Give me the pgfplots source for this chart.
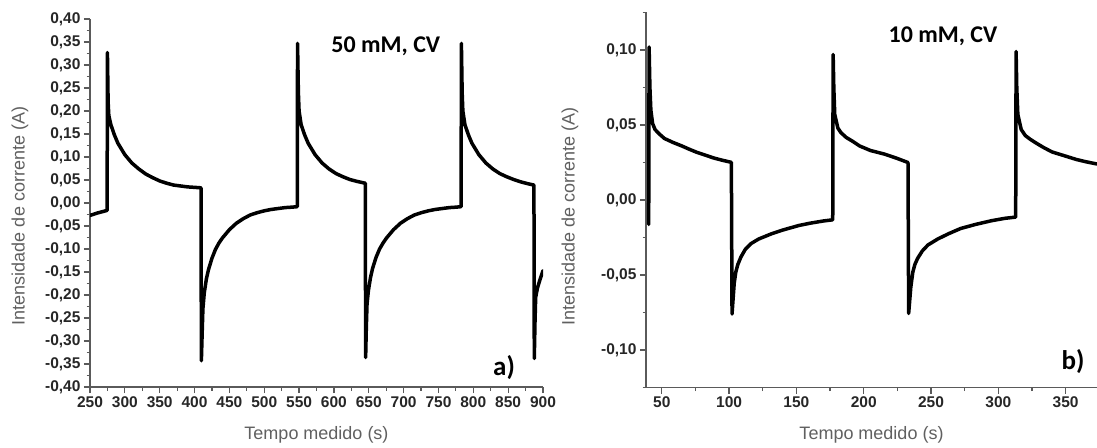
\documentclass[border=0pt]{standalone}
\usepackage{fontspec}
\setmainfont{Liberation Sans}
\newfontfamily\calibri{Carlito}
\usepackage{pgfplots}
\pgfplotsset{compat=1.18}
\definecolor{axgray}{HTML}{5A5A5A}
\definecolor{labgray}{HTML}{606060}
\definecolor{tickblack}{HTML}{262626}
\pgfplotsset{
  base/.style={
    scale only axis,
    axis lines*=left,
    axis line style={axgray, line width=1.4pt},
    every tick/.style={axgray, line width=1.2pt},
    tick align=outside,
    major tick length=6pt,
    minor tick length=3.5pt,
    minor x tick num=1,
    minor y tick num=1,
    scaled y ticks=false,
    scaled x ticks=false,
    /pgf/number format/assume math mode=true,
    tick label style={font=\fontsize{15.5}{17}\selectfont\bfseries, text=tickblack},
    xticklabel style={/pgf/number format/.cd, fixed, precision=0, 1000 sep={}},
    yticklabel style={/pgf/number format/.cd, fixed, fixed zerofill, precision=2, use comma},
    label style={font=\fontsize{18}{20}\selectfont, text=labgray},
    xlabel={Tempo medido (s)},
    ylabel={Intensidade de corrente (A)},
    curve/.style={black, line width=3.5pt, line join=round, line cap=round},
  }
}
\begin{document}
\begin{tikzpicture}
\useasboundingbox (0pt,0pt) rectangle (1097pt,447pt);
% ---------------- a) ----------------
\begin{axis}[base,
  at={(90pt,60pt)}, anchor=south west,
  width=453pt, height=368pt,
  xmin=250, xmax=900, ymin=-0.40, ymax=0.40,
  xtick={250,300,...,900},
  ytick={-0.40,-0.35,...,0.41},
  xlabel style={at={(axis description cs:0.5,-0.1304)}, anchor=center},
  ylabel style={at={(axis description cs:-0.1545,0.4647)}, anchor=center},
]
\addplot[curve] coordinates {
(250,-0.027) (260,-0.022) (270,-0.018) (274.6,-0.016) (275,0.327) (276,0.22) (277,0.19) (280,0.170) (285,0.148) (290,0.130) (300,0.105) (310,0.087) (320,0.074) (330,0.063) (340,0.055) (350,0.048) (360,0.043) (370,0.039) (380,0.037) (390,0.035) (400,0.034) (409.3,0.033)
(409.8,-0.343) (411,-0.28) (412,-0.23) (414,-0.195) (417,-0.165) (420,-0.145) (425,-0.120) (430,-0.101) (435,-0.087) (440,-0.076) (450,-0.058) (460,-0.044) (470,-0.034) (480,-0.026) (490,-0.021) (500,-0.017) (510,-0.014) (520,-0.012) (530,-0.010) (540,-0.009) (547.4,-0.008)
(547.8,0.347) (549,0.24) (550,0.20) (553,0.170) (558,0.148) (563,0.130) (573,0.105) (583,0.087) (593,0.074) (603,0.064) (613,0.057) (623,0.051) (633,0.047) (645,0.043)
(645.5,-0.336) (646.5,-0.27) (647.5,-0.22) (649.5,-0.19) (652.5,-0.162) (655.5,-0.142) (660.5,-0.118) (665.5,-0.100) (670.5,-0.087) (675.5,-0.076) (685.5,-0.058) (695.5,-0.044) (705.5,-0.034) (715.5,-0.026) (725.5,-0.021) (735.5,-0.017) (745.5,-0.014) (755.5,-0.012) (765.5,-0.010) (775.5,-0.009) (782.5,-0.008)
(782.9,0.347) (784,0.24) (785,0.20) (788,0.170) (793,0.148) (798,0.130) (808,0.105) (818,0.087) (828,0.074) (838,0.064) (848,0.057) (858,0.051) (868,0.046) (878,0.042) (887,0.039)
(887.5,-0.338) (888.5,-0.26) (889.5,-0.205) (892,-0.185) (896,-0.165) (900,-0.147)
};
\node[font=\calibri\bfseries\fontsize{24}{26}\selectfont, anchor=base] at (axis description cs:0.653,0.9095) {50 mM, CV};
\node[font=\calibri\bfseries\fontsize{27}{29}\selectfont, anchor=base] at (axis description cs:0.914,0.0326) {a)};
\end{axis}
% ---------------- b) ----------------
\begin{axis}[base,
  at={(646pt,59.5pt)}, anchor=south west,
  width=451pt, height=375pt,
  xmin=38.3, xmax=373.3, ymin=-0.125, ymax=0.125,
  xtick={50,100,...,350},
  ytick={-0.10,-0.05,0,0.05,0.10},
  minor xtick={75,125,...,375},
  minor ytick={-0.125,-0.075,-0.025,0.025,0.075,0.125},
  minor x tick num=0, minor y tick num=0,
  xlabel style={at={(axis description cs:0.5,-0.1267)}, anchor=center},
  ylabel style={at={(axis description cs:-0.1685,0.457)}, anchor=center},
]
\addplot[curve] coordinates {
(40.3,-0.0163) (40.6,0.102) (41.2,0.075) (41.9,0.060) (43.2,0.051) (45,0.047) (48.2,0.044) (52,0.041) (58.3,0.0384) (65,0.036) (70,0.034) (76,0.0318) (82,0.030) (88.6,0.028) (95,0.0265) (101.7,0.0251)
(102.2,-0.076) (103.8,-0.0557) (105,-0.048) (106.5,-0.043) (108.8,-0.038) (112,-0.033) (116.4,-0.029) (122,-0.026) (131.6,-0.0225) (140,-0.020) (151.8,-0.017) (160,-0.0155) (170,-0.014) (177,-0.0132)
(177.3,0.097) (177.8,0.075) (178.5,0.057) (180.8,0.048) (183,0.045) (187,0.0417) (192,0.039) (197,0.036) (205,0.033) (215,0.0307) (224,0.028) (232.9,0.025)
(233.4,-0.0756) (235,-0.058) (236.5,-0.048) (238,-0.043) (240,-0.039) (243.5,-0.034) (247.7,-0.030) (255,-0.026) (263,-0.0225) (272,-0.019) (283,-0.0163) (295,-0.0138) (305,-0.0122) (312.9,-0.0114)
(313.2,0.099) (313.7,0.075) (314.5,0.057) (317,0.047) (320,0.043) (323.5,0.0406) (328,0.038) (333.6,0.035) (340,0.032) (348.7,0.0296) (358,0.027) (365,0.0255) (373.3,0.024)
};
\node[font=\calibri\bfseries\fontsize{24}{26}\selectfont, anchor=base] at (axis description cs:0.6585,0.921) {10 mM, CV};
\node[font=\calibri\bfseries\fontsize{27}{29}\selectfont, anchor=base] at (axis description cs:0.947,0.0467) {b)};
\end{axis}
\end{tikzpicture}
\end{document}
